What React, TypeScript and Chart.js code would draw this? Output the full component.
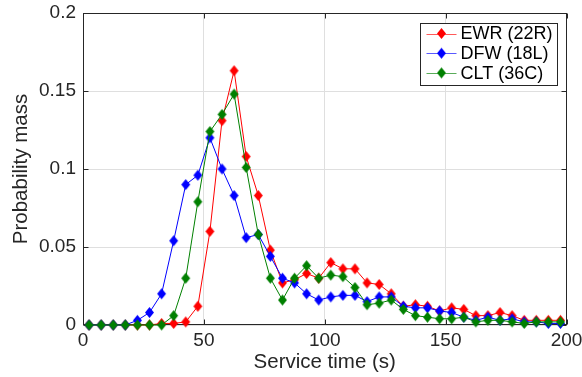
import { useEffect, useRef } from "react";
import { Chart, registerables } from "chart.js";

Chart.register(...registerables);

// Service-time bins (s), bin centres
const serviceTimes = [
  2.5, 7.5, 12.5, 17.5, 22.5, 27.5, 32.5, 37.5, 42.5, 47.5,
  52.5, 57.5, 62.5, 67.5, 72.5, 77.5, 82.5, 87.5, 92.5, 97.5,
  102.5, 107.5, 112.5, 117.5, 122.5, 127.5, 132.5, 137.5, 142.5, 147.5,
  152.5, 157.5, 162.5, 167.5, 172.5, 177.5, 182.5, 187.5, 192.5, 197.5,
];

// Probability mass per bin for each runway
const ewrMass = [
  0, 0, 0, 0, 0, 0, 0.001, 0.001, 0.002, 0.012,
  0.06, 0.131, 0.163, 0.108, 0.083, 0.048, 0.027, 0.029, 0.033, 0.03,
  0.04, 0.036, 0.036, 0.027, 0.026, 0.02, 0.012, 0.013, 0.012, 0.009,
  0.011, 0.01, 0.006, 0.006, 0.008, 0.006, 0.003, 0.003, 0.003, 0.003,
];
const dfwMass = [
  0, 0, 0, 0, 0.003, 0.008, 0.02, 0.054, 0.09, 0.096,
  0.12, 0.1, 0.083, 0.056, 0.058, 0.044, 0.03, 0.027, 0.02, 0.016,
  0.018, 0.019, 0.019, 0.015, 0.018, 0.018, 0.012, 0.011, 0.011, 0.009,
  0.008, 0.005, 0.003, 0.005, 0.003, 0.004, 0.002, 0.002, 0.001, 0.001,
];
const cltMass = [
  0, 0, 0, 0, 0, 0, 0, 0.006, 0.03, 0.079,
  0.124, 0.135, 0.148, 0.101, 0.058, 0.03, 0.016, 0.03, 0.038, 0.03,
  0.032, 0.031, 0.024, 0.013, 0.014, 0.016, 0.01, 0.006, 0.005, 0.004,
  0.004, 0.005, 0.002, 0.003, 0.003, 0.002, 0.001, 0.002, 0.002, 0.002,
];

const seriesNames = ["EWR (22R)", "DFW (18L)", "CLT (36C)"];
const seriesColors = ["#ff0000", "#0000ff", "#008000"];

const xTickValues = [0, 50, 100, 150, 200];
const xTickLabels = ["0", "50", "100", "150", "200"];
const yTickValues = [0, 0.05, 0.1, 0.15, 0.2];
const yTickLabels = ["0", "0.05", "0.1", "0.15", "0.2"];

const FONT = "'Liberation Sans', Arial, Helvetica, sans-serif";
const INK = "#262626";
const GRID = "#dfdfdf";

// Filled diamond marker, a little taller than wide
function makeDiamond(color: string): HTMLCanvasElement {
  const c = document.createElement("canvas");
  c.width = 11;
  c.height = 13;
  const g = c.getContext("2d")!;
  g.fillStyle = color;
  g.beginPath();
  g.moveTo(5.5, 1);
  g.lineTo(10, 6.5);
  g.lineTo(5.5, 12);
  g.lineTo(1, 6.5);
  g.closePath();
  g.fill();
  return c;
}

// Box around the axes with inward tick marks on all four sides
const framePlugin = {
  id: "axesFrame",
  beforeDatasetsDraw(chart: any) {
    const { ctx, chartArea: a, scales } = chart;
    const L = Math.round(a.left) + 0.5;
    const R = Math.round(a.right) - 0.5;
    const T = Math.round(a.top) + 0.5;
    const B = Math.round(a.bottom) - 0.5;
    const len = 5;
    ctx.save();
    ctx.strokeStyle = INK;
    ctx.lineWidth = 1;
    ctx.beginPath();
    for (const v of xTickValues) {
      const px = Math.round(scales.x.getPixelForValue(v)) + 0.5;
      ctx.moveTo(px, B);
      ctx.lineTo(px, B - len);
      ctx.moveTo(px, T);
      ctx.lineTo(px, T + len);
    }
    for (const v of yTickValues) {
      const py = Math.round(scales.y.getPixelForValue(v)) + 0.5;
      ctx.moveTo(L, py);
      ctx.lineTo(L + len, py);
      ctx.moveTo(R, py);
      ctx.lineTo(R - len, py);
    }
    ctx.stroke();
    ctx.strokeRect(L, T, R - L, B - T);
    ctx.restore();
  },
};

// Legend box in the upper-right corner: line sample with marker, then name
const legendPlugin = {
  id: "cornerLegend",
  afterDraw(chart: any) {
    const { ctx, chartArea: a } = chart;
    const datasets = chart.data.datasets;
    ctx.save();
    ctx.font = `18px ${FONT}`;
    const textW = Math.max(...seriesNames.map((s) => ctx.measureText(s).width));
    const right = Math.round(a.right - 10) + 0.5;
    const top = Math.round(a.top + 10) + 0.5;
    const left = Math.round(right - textW - 45) + 0.5;
    const rowH = 19.7;
    const bottom = Math.round(top + rowH * 3 + 2) + 0.5;
    ctx.fillStyle = "#ffffff";
    ctx.fillRect(left, top, right - left, bottom - top);
    ctx.strokeStyle = INK;
    ctx.lineWidth = 1;
    ctx.strokeRect(left, top, right - left, bottom - top);
    seriesNames.forEach((name, i) => {
      const cy = top + 10 + rowH * i;
      ctx.globalAlpha = 0.65;
      ctx.strokeStyle = seriesColors[i];
      ctx.beginPath();
      ctx.moveTo(left + 6, Math.round(cy) + 0.5);
      ctx.lineTo(left + 36, Math.round(cy) + 0.5);
      ctx.stroke();
      ctx.globalAlpha = 1;
      const m = datasets[i] && datasets[i].pointStyle;
      if (m && m.width) {
        ctx.drawImage(m, left + 21 - m.width / 2, cy - m.height / 2);
      }
      ctx.fillStyle = "#000000";
      ctx.textBaseline = "middle";
      ctx.textAlign = "left";
      ctx.fillText(name, left + 40, cy + 1);
    });
    ctx.restore();
  },
};

export default function App() {
  const canvasRef = useRef<HTMLCanvasElement | null>(null);

  useEffect(() => {
    const canvas = canvasRef.current;
    if (!canvas) return;
    const markers = seriesColors.map(makeDiamond);
    const series = [ewrMass, dfwMass, cltMass];
    const drawOrder = [3, 2, 1];

    const chart = new Chart(canvas, {
      type: "line",
      data: {
        datasets: series.map((vals, i) => ({
          label: seriesNames[i],
          data: vals.map((y, k) => ({ x: serviceTimes[k], y })),
          borderColor: seriesColors[i],
          backgroundColor: seriesColors[i],
          borderWidth: 1,
          pointStyle: markers[i],
          pointRadius: 5,
          pointHoverRadius: 5,
          tension: 0,
          fill: false,
          clip: false as any,
          order: drawOrder[i],
        })),
      },
      options: {
        animation: false,
        responsive: false,
        devicePixelRatio: 1,
        events: [],
        layout: { padding: { left: 0, right: 15.5, top: 13, bottom: 0 } },
        plugins: {
          legend: { display: false },
          tooltip: { enabled: false },
        },
        scales: {
          x: {
            type: "linear",
            min: 0,
            max: 200,
            afterBuildTicks: (s: any) => {
              s.ticks = xTickValues.map((v) => ({ value: v }));
            },
            afterFit: (s: any) => {
              s.height = 52;
              s.paddingLeft = 0;
              s.paddingRight = 0;
            },
            ticks: {
              autoSkip: false,
              maxRotation: 0,
              padding: 4,
              color: INK,
              font: { family: FONT, size: 19 },
              callback: (v: any) => xTickLabels[xTickValues.indexOf(Number(v))] ?? "",
            },
            grid: { color: GRID, lineWidth: 1, drawTicks: false },
            border: { display: false },
            title: {
              display: true,
              text: "Service time (s)",
              color: INK,
              font: { family: FONT, size: 20.5 },
              padding: { top: 0, bottom: 2.6 },
            },
          },
          y: {
            type: "linear",
            min: 0,
            max: 0.2,
            afterBuildTicks: (s: any) => {
              s.ticks = yTickValues.map((v) => ({ value: v }));
            },
            afterFit: (s: any) => {
              s.width = 83;
              s.paddingTop = 0;
              s.paddingBottom = 0;
            },
            ticks: {
              autoSkip: false,
              padding: 7,
              color: INK,
              font: { family: FONT, size: 19 },
              callback: (v: any) => {
                const idx = yTickValues.findIndex((t) => Math.abs(t - Number(v)) < 1e-9);
                return idx >= 0 ? yTickLabels[idx] : "";
              },
            },
            grid: { color: GRID, lineWidth: 1, drawTicks: false },
            border: { display: false },
            title: {
              display: true,
              text: "Probability mass",
              color: INK,
              font: { family: FONT, size: 20.5 },
              padding: { top: 9.4, bottom: 0 },
            },
          },
        },
      },
      plugins: [framePlugin, legendPlugin],
    });

    return () => chart.destroy();
  }, []);

  return (
    <div style={{ position: "absolute", left: 0, top: 0, width: 582, height: 377, background: "#ffffff" }}>
      <canvas ref={canvasRef} width={582} height={377} style={{ display: "block" }} />
    </div>
  );
}
